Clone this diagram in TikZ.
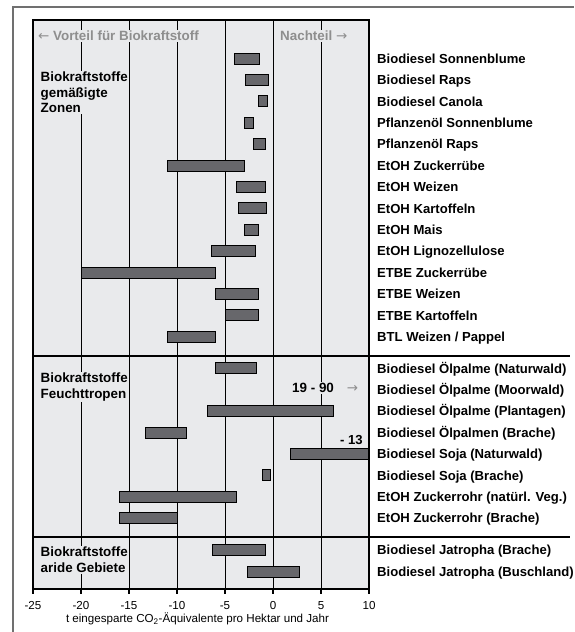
\documentclass[tikz,border=0pt]{standalone}
\usepackage{fontspec}
\setmainfont{Liberation Sans}
\newfontfamily\arrowfont{DejaVu Sans}
\definecolor{panel}{HTML}{E9EAEC}
\definecolor{barfill}{HTML}{67676B}
\definecolor{hint}{HTML}{8E8E8E}
\definecolor{framegray}{HTML}{707070}
\begin{document}
\begin{tikzpicture}[x=1pt,y=-1pt,
  gridline/.style={black,line width=0.9pt},
  barbox/.style={fill=barfill,draw=black,line width=1pt},
  rowlabel/.style={anchor=base west,inner sep=0pt,font=\fontsize{13.1}{15.6}\selectfont\bfseries},
  grouplabel/.style={anchor=north west,align=left,inner sep=1pt,fill=panel,font=\fontsize{13.4}{15.6}\selectfont\bfseries},
  hintlabel/.style={anchor=base west,inner sep=1pt,fill=panel,text=hint,font=\fontsize{13.4}{15.6}\selectfont\bfseries},
  ticklabel/.style={anchor=base,inner sep=0pt,font=\fontsize{11.6}{13}\selectfont},
  divider/.style={black,line width=2pt}]
\useasboundingbox (0,0) rectangle (574,632);

% outer frame
\draw[framegray,line width=1.4pt] (13,632) -- (13,7) -- (574,7);

% plot panel and grid (x = 273 + 9.6 * value)
\fill[panel] (33,20) rectangle (369,589);
\foreach \v in {-20,-15,...,5}
  \draw[gridline] ({273+9.6*(\v)},20) -- ({273+9.6*(\v)},589);

% annotations inside the panel
\node[hintlabel] (vorteil) at (37,40.8) {{\arrowfont\mdseries←}\ Vorteil für Biokraftstoff};
\node[hintlabel] (nachteil) at (279,40.8) {Nachteil {\arrowfont\mdseries→}};
\node[grouplabel] (gzone) at (39.5,70.5) {Biokraftstoffe\\gemäßigte\\Zonen};
\node[grouplabel] (ftrop) at (39.5,372) {Biokraftstoffe\\Feuchttropen};
\node[grouplabel] (arid) at (39.5,546) {Biokraftstoffe\\aride Gebiete};
\node[hintlabel,text=black] (moor) at (291,392.5) {19 - 90\hspace{13pt}\textcolor{hint}{\arrowfont\mdseries →}};
\node[rowlabel] (soja) at (340,444) {- 13};

% bars: low / high / row centre
\foreach \lo/\hi/\yc in {
  -4.05/-1.45/58.5, -2.85/-0.45/79.9, -1.55/-0.6/101.3, -3.0/-2.05/122.7,
  -2.05/-0.8/144.1, -11.0/-3.0/165.5, -3.8/-0.75/186.9, -3.55/-0.7/208.3,
  -3.0/-1.5/229.7, -6.45/-1.8/251.1, -20.0/-6.0/272.5, -6.0/-1.5/293.9,
  -5.0/-1.5/315.3, -11.0/-6.0/336.7,
  -5.95/-1.75/368.3, -6.8/6.35/411.1, -13.25/-9.0/432.5, 1.85/10.1/453.9,
  -1.1/-0.3/475.3, -16.0/-3.8/496.7, -16.0/-10.0/518.1,
  -6.3/-0.75/550.0, -2.7/2.8/571.5}
  \draw[barbox] ({273+9.6*(\lo)},{\yc-5.5}) rectangle ({273+9.6*(\hi)},{\yc+5.5});

% panel border, section dividers, axis ticks
\draw[black,line width=1.2pt] (33,20) rectangle (369,589);
\draw[black,line width=2pt] (369,20) -- (369,589);
\draw[divider] (33,356) -- (570,356);
\draw[divider] (33,537) -- (570,537);
\foreach \v in {-25,-20,...,10} {
  \draw[black,line width=1.2pt] ({273+9.6*(\v)},589) -- ({273+9.6*(\v)},593.5);
  \node[ticklabel] (tick\v) at ({273+9.6*(\v)},609) {\v};
}
\node[ticklabel] (axistitle) at (197.5,622.5) {t eingesparte CO\textsubscript{2}-Äquivalente pro Hektar und Jahr};

% row labels
\foreach \t [count=\i] in {{Biodiesel Sonnenblume},{Biodiesel Raps},{Biodiesel Canola},
  {Pflanzenöl Sonnenblume},{Pflanzenöl Raps},{EtOH Zuckerrübe},{EtOH Weizen},
  {EtOH Kartoffeln},{EtOH Mais},{EtOH Lignozellulose},{ETBE Zuckerrübe},
  {ETBE Weizen},{ETBE Kartoffeln},{BTL Weizen / Pappel}}
  \node[rowlabel] (ra\i) at (377,{58.5+21.4*(\i-1)+4.8}) {\t};
\foreach \t [count=\i] in {{Biodiesel Ölpalme (Naturwald)},{Biodiesel Ölpalme (Moorwald)},
  {Biodiesel Ölpalme (Plantagen)},{Biodiesel Ölpalmen (Brache)},{Biodiesel Soja (Naturwald)},
  {Biodiesel Soja (Brache)},{EtOH Zuckerrohr (natürl. Veg.)},{EtOH Zuckerrohr (Brache)}}
  \node[rowlabel] (rb\i) at (377,{368.3+21.4*(\i-1)+4.8}) {\t};
\node[rowlabel] (rc1) at (377,554.8) {Biodiesel Jatropha (Brache)};
\node[rowlabel] (rc2) at (377,576.3) {Biodiesel Jatropha (Buschland)};
\end{tikzpicture}
\end{document}
